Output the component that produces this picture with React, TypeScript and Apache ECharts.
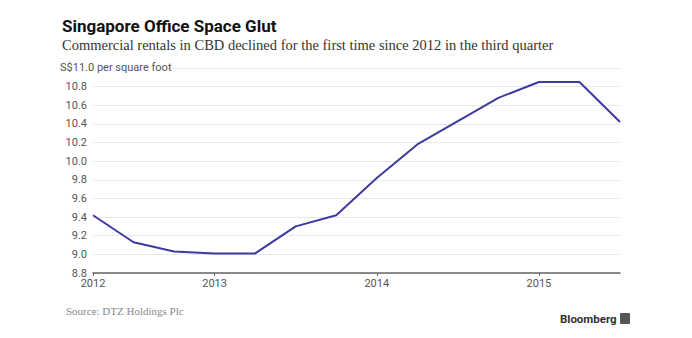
import React, { useEffect, useRef } from "react";
import * as echarts from "echarts";

const quarters = [
  "2012Q2", "2012Q3", "2012Q4", "2013Q1", "2013Q2", "2013Q3", "2013Q4",
  "2014Q1", "2014Q2", "2014Q3", "2014Q4", "2015Q1", "2015Q2", "2015Q3",
];
const rentals = [9.42, 9.13, 9.03, 9.01, 9.01, 9.30, 9.42, 9.82, 10.18, 10.43, 10.68, 10.85, 10.85, 10.42];
const yearLabels: Record<number, string> = { 0: "2012", 3: "2013", 7: "2014", 11: "2015" };
const yTicks = { min: 8.8, max: 11.0, interval: 0.2 };

const title = "Singapore Office Space Glut";
const subtitle = "Commercial rentals in CBD declined for the first time since 2012 in the third quarter";
const unitLabel = "S$11.0 per square foot";
const source = "Source: DTZ Holdings Plc";

export default function App() {
  const ref = useRef<HTMLDivElement>(null);
  useEffect(() => {
    if (!ref.current) return;
    const chart = echarts.init(ref.current, null, { renderer: "svg" });
    chart.setOption({
      animation: false,
      backgroundColor: "#ffffff",
      grid: { left: 93, right: 72, top: 68, bottom: 65, containLabel: false },
      xAxis: {
        type: "category",
        data: quarters,
        boundaryGap: false,
        axisLine: { show: true, lineStyle: { color: "#666", width: 1.5 } },
        axisTick: {
          show: true,
          length: 3,
          interval: (i: number) => i in yearLabels,
          lineStyle: { color: "#666" },
        },
        axisLabel: {
          interval: (i: number) => i in yearLabels,
          formatter: (_v: string, i: number) => yearLabels[i] ?? "",
          color: "#555",
          fontSize: 11,
          fontFamily: "Roboto",
          margin: 5,
        },
        splitLine: { show: false },
      },
      yAxis: {
        type: "value",
        min: yTicks.min,
        max: yTicks.max,
        interval: yTicks.interval,
        axisLine: { show: false },
        axisTick: { show: false },
        axisLabel: {
          color: "#555",
          fontSize: 11,
          fontFamily: "Roboto",
          margin: 6,
          padding: [0, 0, 2, 0],
          formatter: (v: number) => (Math.abs(v - yTicks.max) < 1e-6 ? "" : v.toFixed(1)),
        },
        splitLine: { show: true, lineStyle: { color: "#e8e8e8", width: 1 } },
      },
      series: [
        {
          type: "line",
          data: rentals,
          showSymbol: false,
          symbol: "none",
          lineStyle: { color: "#3b3ba0", width: 2 },
        },
      ],
      graphic: [
        {
          type: "text",
          left: 62,
          top: 17,
          style: { text: title, font: "bold 17px Roboto", fill: "#111" },
        },
        {
          type: "text",
          left: 62,
          top: 37,
          style: { text: subtitle, font: "14.5px 'Liberation Serif'", fill: "#333" },
        },
        {
          type: "rect",
          left: 58,
          top: 62,
          shape: { width: 108, height: 12 },
          style: { fill: "#ffffff" },
          z: 100,
        },
        {
          type: "text",
          left: 60,
          top: 62,
          z: 101,
          style: { text: unitLabel, font: "11px Roboto", fill: "#555" },
        },
        {
          type: "text",
          left: 66,
          top: 305,
          style: { text: source, font: "11px 'Liberation Serif'", fill: "#888" },
        },
        {
          type: "text",
          left: 560,
          top: 313,
          style: { text: "Bloomberg", font: "bold 11.5px Roboto", fill: "#333" },
        },
        {
          type: "rect",
          left: 620,
          top: 313,
          shape: { width: 10, height: 11, r: 1 },
          style: { fill: "#555" },
        },
      ],
    });
    return () => chart.dispose();
  }, []);
  return <div ref={ref} style={{ width: 692, height: 338, position: "absolute", left: 0, top: 0 }} />;
}
